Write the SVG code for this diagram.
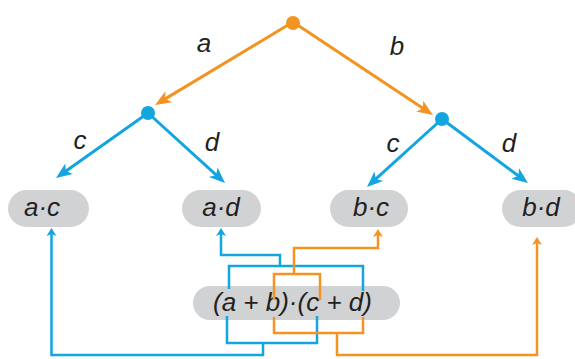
<svg xmlns="http://www.w3.org/2000/svg" width="575" height="359" viewBox="0 0 575 359">
<style>
.pill{fill:#d1d2d4}
.t{font-family:"Liberation Sans",Arial,sans-serif;font-style:italic;font-size:26px;fill:#231f20}
.o{stroke:#f39322;fill:none}
.b{stroke:#12a5e0;fill:none}
.tree{stroke-width:3}
.br{stroke-width:2.5;stroke-linejoin:miter}
</style>
<defs>
<marker id="ao" markerUnits="userSpaceOnUse" viewBox="-10 -10 20 20" markerWidth="20" markerHeight="20" refX="0" refY="0" orient="auto"><path d="M8,0 L-8,-6.5 L-4,0 L-8,6.5 Z" fill="#f39322"/></marker>
<marker id="ab" markerUnits="userSpaceOnUse" viewBox="-10 -10 20 20" markerWidth="20" markerHeight="20" refX="0" refY="0" orient="auto"><path d="M8,0 L-8,-6.5 L-4,0 L-8,6.5 Z" fill="#12a5e0"/></marker>
<marker id="so" markerUnits="userSpaceOnUse" viewBox="-6 -6 12 12" markerWidth="12" markerHeight="12" refX="0" refY="0" orient="auto"><path d="M4,0 L-4,-5 L-2,0 L-4,5 Z" fill="#f39322"/></marker>
<marker id="sb" markerUnits="userSpaceOnUse" viewBox="-6 -6 12 12" markerWidth="12" markerHeight="12" refX="0" refY="0" orient="auto"><path d="M4,0 L-4,-5 L-2,0 L-4,5 Z" fill="#12a5e0"/></marker>
</defs>

<g id="n-ac"><rect class="pill" x="8" y="190" width="81" height="37" rx="18.5"/><text class="t" x="42" y="216" text-anchor="middle">a·c</text></g>
<g id="n-ad"><rect class="pill" x="182" y="190" width="79" height="37" rx="18.5"/><text class="t" x="221" y="216" text-anchor="middle">a·d</text></g>
<g id="n-bc"><rect class="pill" x="330" y="190" width="78" height="37" rx="18.5"/><text class="t" x="371" y="216" text-anchor="middle">b·c</text></g>
<g id="n-bd"><rect class="pill" x="502" y="190" width="80" height="37" rx="18.5"/><text class="t" x="541" y="216" text-anchor="middle">b·d</text></g>
<g id="n-expr"><rect class="pill" x="193" y="286" width="207" height="34" rx="17"/><text class="t" x="213" y="311">(a + b)·(c + d)</text></g>

<g id="connectors">
<line class="o tree" x1="293" y1="22" x2="161.9" y2="100.9" marker-end="url(#ao)"/>
<line class="o tree" x1="293" y1="22" x2="426.3" y2="110.6" marker-end="url(#ao)"/>
<line class="b tree" x1="148" y1="113" x2="62.5" y2="173.4" marker-end="url(#ab)"/>
<line class="b tree" x1="148" y1="113" x2="219.1" y2="177.6" marker-end="url(#ab)"/>
<line class="b tree" x1="442" y1="119" x2="372.9" y2="181.6" marker-end="url(#ab)"/>
<line class="b tree" x1="442" y1="119" x2="521.6" y2="178.2" marker-end="url(#ab)"/>

<polyline class="b br" points="229,289 229,266 363,266 363,291"/>
<polyline class="b br" points="280,266 280,255 221,255 221,232" marker-end="url(#sb)"/>
<polyline class="o br" points="274,300 274,274 320,274 320,300"/>
<polyline class="o br" points="294,274 294,248 378,248 378,233" marker-end="url(#so)"/>
<polyline class="b br" points="227,316 227,343 317,343 317,316"/>
<polyline class="b br" points="263,343 263,355 51.5,355 51.5,232" marker-end="url(#sb)"/>
<polyline class="o br" points="274,317 274,333 363,333 363,317"/>
<polyline class="o br" points="337,333 337,355 537,355 537,241" marker-end="url(#so)"/>
</g>

<g id="n-root"><circle cx="293" cy="23" r="7" fill="#f39322"/></g>
<g id="n-left"><circle cx="148" cy="113" r="7" fill="#12a5e0"/></g>
<g id="n-right"><circle cx="442" cy="119" r="7" fill="#12a5e0"/></g>

<g id="labels">
<text class="t" x="204" y="52" text-anchor="middle">a</text>
<text class="t" x="397" y="55" text-anchor="middle">b</text>
<text class="t" x="80" y="149" text-anchor="middle">c</text>
<text class="t" x="212" y="151" text-anchor="middle">d</text>
<text class="t" x="393" y="152" text-anchor="middle">c</text>
<text class="t" x="509" y="152" text-anchor="middle">d</text>
</g>
</svg>
